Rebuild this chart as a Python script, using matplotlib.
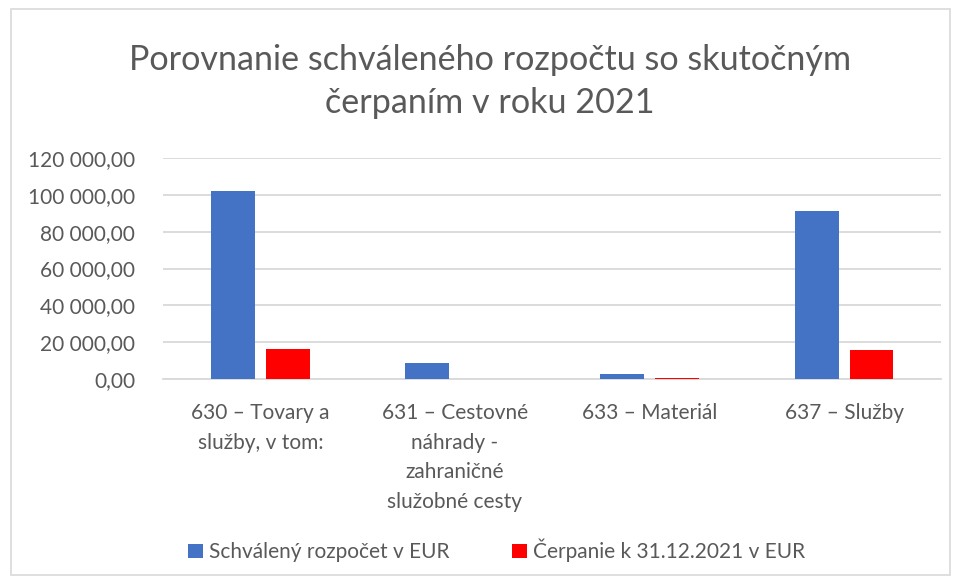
import numpy as np
import matplotlib
matplotlib.use('Agg')
from matplotlib import pyplot as plt
from matplotlib.patches import Rectangle

##################
# data
##################
categories = ['630 – Tovary a\nslužby, v tom:',
              '631 – Cestovné\nnáhrady -\nzahraničné\nslužobné cesty',
              '633 – Materiál',
              '637 – Služby']
budget = [102000, 8500, 2500, 91200]
spent = [16300, 0, 300, 15800]
series_names = ['Schválený rozpočet v EUR', 'Čerpanie k 31.12.2021 v EUR']
y_ticks = [0, 20000, 40000, 60000, 80000, 100000, 120000]
y_tick_labels = ['0,00', '20 000,00', '40 000,00', '60 000,00',
                 '80 000,00', '100 000,00', '120 000,00']

##################
# style
##################
plt.rcParams['font.family'] = ['Lato', 'DejaVu Sans']
txt = '#595959'
grid_c = '#d9d9d9'
blue = '#4472c4'
red = '#ff0000'

fig = plt.figure(figsize=(9.55, 5.82), dpi=100)
ax = fig.add_axes([0.1707, 0.3488, 0.815, 0.3797])

x = np.arange(len(categories))
w = 0.226
off = 0.141
ax.bar(x - off, budget, w, color=blue, label=series_names[0], zorder=3)
ax.bar(x + off, spent, w, color=red, label=series_names[1], zorder=3)

ax.set_xlim(-0.5, len(categories) - 0.5)
ax.set_ylim(0, 120000)
ax.set_yticks(y_ticks)
ax.set_yticklabels(y_tick_labels, color=txt, fontsize=15)
ax.set_xticks(x)
ax.set_xticklabels(categories, color=txt, fontsize=15, linespacing=1.62, va='top')
ax.tick_params(axis='both', length=0)
ax.tick_params(axis='x', pad=17)
ax.tick_params(axis='y', pad=20)
ax.grid(axis='y', color=grid_c, linewidth=1.3, zorder=0)
for s in ['top', 'right', 'left']:
    ax.spines[s].set_visible(False)
ax.spines['bottom'].set_color(grid_c)
ax.spines['bottom'].set_linewidth(1.3)

fig.text(0.513, 0.860, 'Porovnanie schváleného rozpočtu so skutočným\nčerpaním v roku 2021',
         ha='center', va='center', fontsize=24.6, color=txt, linespacing=1.4)

leg = fig.legend(loc='center', bbox_to_anchor=(0.520, 0.054), ncol=2, frameon=False,
                 fontsize=15, handlelength=0.7, handleheight=0.7, handletextpad=0.3,
                 columnspacing=3.0)
for t in leg.get_texts():
    t.set_color(txt)

# chart border
fig.patches.append(Rectangle((0.011, 0.012), 0.984, 0.972, transform=fig.transFigure,
                             fill=False, edgecolor=grid_c, linewidth=1.2))

plt.savefig('out.png', dpi=100)
